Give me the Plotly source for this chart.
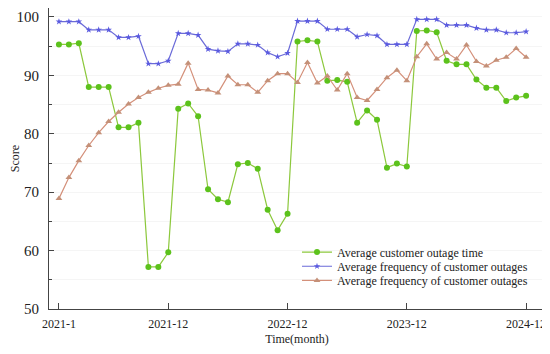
import plotly.graph_objects as go

months = list(range(48))
tick_positions = [0, 11, 23, 35, 47]
tick_labels = ["2021-1", "2021-12", "2022-12", "2023-12", "2024-12"]

outage_time = [95.3, 95.3, 95.5, 88.0, 88.0, 88.0, 81.1, 81.1, 81.9, 57.2, 57.2, 59.7,
               84.3, 85.2, 83.0, 70.5, 68.8, 68.3, 74.8, 75.0, 74.0, 67.0, 63.5, 66.3,
               95.8, 96.0, 95.8, 89.1, 89.2, 88.9, 81.9, 84.0, 82.4, 74.2, 74.9, 74.4,
               97.6, 97.7, 97.4, 92.5, 91.9, 91.9, 89.3, 87.9, 87.9, 85.6, 86.2, 86.5]

outage_freq_a = [99.2, 99.2, 99.2, 97.8, 97.8, 97.8, 96.5, 96.5, 96.7, 92.0, 92.0, 92.5,
                 97.2, 97.2, 96.9, 94.5, 94.2, 94.1, 95.4, 95.4, 95.2, 93.9, 93.2, 93.8,
                 99.3, 99.3, 99.3, 97.9, 97.9, 97.9, 96.6, 97.0, 96.8, 95.3, 95.3, 95.3,
                 99.6, 99.6, 99.6, 98.6, 98.6, 98.6, 98.1, 97.8, 97.8, 97.3, 97.3, 97.5]

outage_freq_b = [68.9, 72.5, 75.4, 78.0, 80.2, 82.1, 83.7, 85.1, 86.2, 87.1, 87.8, 88.3,
                 88.5, 92.1, 87.6, 87.5, 87.0, 89.9, 88.4, 88.4, 87.1, 89.1, 90.3, 90.3,
                 88.8, 92.2, 88.7, 89.9, 87.5, 90.3, 86.2, 85.7, 87.6, 89.6, 90.9, 89.1,
                 93.2, 95.4, 92.8, 93.9, 92.8, 95.2, 92.4, 91.6, 92.6, 93.1, 94.6, 93.1]

series_names = ["Average customer outage time",
                "Average frequency of customer outages",
                "Average frequency of customer outages"]

font_family = "Liberation Serif, Times New Roman, serif"

fig = go.Figure()
fig.add_trace(go.Scatter(
    x=months, y=outage_time, name=series_names[0], mode="lines+markers",
    line=dict(color="#8cc83c", width=1.2),
    marker=dict(symbol="circle", size=6, color="#5cc21c"),
    legend="legend",
))
fig.add_trace(go.Scatter(
    x=months, y=outage_freq_a, name=series_names[1], mode="lines+markers",
    line=dict(color="#6a6ad8", width=1.2),
    marker=dict(symbol="star", size=5, color="#5a5ae0"),
    legend="legend2",
))
fig.add_trace(go.Scatter(
    x=months, y=outage_freq_b, name=series_names[2], mode="lines+markers",
    line=dict(color="#d4907a", width=1.2),
    marker=dict(symbol="triangle-up", size=6, color="#c49078"),
    legend="legend3",
))

def leg(yc):
    return dict(
        x=0.50, y=yc, xanchor="left", yanchor="middle",
        bgcolor="rgba(255,255,255,0)", borderwidth=0,
        font=dict(family=font_family, size=12, color="#222"),
        itemwidth=30,
    )

# the page body adds an 8px offset, so the figure is sized to fit the window
fig.update_layout(
    width=542, height=338,
    margin=dict(l=41, r=5, t=0, b=37),
    paper_bgcolor="white", plot_bgcolor="white",
    font=dict(family=font_family, color="#222"),
    showlegend=True,
    legend=leg(0.189),
    legend2=leg(0.142),
    legend3=leg(0.095),
)

fig.update_xaxes(
    range=[-1, 48.9], automargin=False,
    tickmode="array", tickvals=tick_positions, ticktext=tick_labels,
    ticks="inside", ticklen=6, tickcolor="#444", tickwidth=1,
    ticklabelstandoff=4, ticklabeloverflow="allow",
    showline=True, linecolor="#444", linewidth=1, mirror=True,
    showgrid=False, zeroline=False,
    tickfont=dict(family=font_family, size=12, color="#222"),
    title=dict(text="Time(month)", font=dict(family=font_family, size=12, color="#222"), standoff=4),
)
fig.update_yaxes(
    range=[50, 101.54], automargin=False,
    tickmode="array", tickvals=[50, 60, 70, 80, 90, 100],
    ticks="inside", ticklen=5, tickcolor="#444", tickwidth=1,
    ticklabelstandoff=6,
    minor=dict(tickvals=[55, 65, 75, 85, 95], ticks="inside", ticklen=3, tickcolor="#444",
               showgrid=True, gridcolor="rgba(0,0,0,0.04)"),
    showline=True, linecolor="#444", linewidth=1, mirror=True,
    showgrid=True, gridcolor="rgba(0,0,0,0.04)", zeroline=False,
    tickfont=dict(family=font_family, size=15, color="#222"),
    title=dict(text="Score", font=dict(family=font_family, size=12, color="#222"), standoff=4),
)

fig.write_html("out.html")
